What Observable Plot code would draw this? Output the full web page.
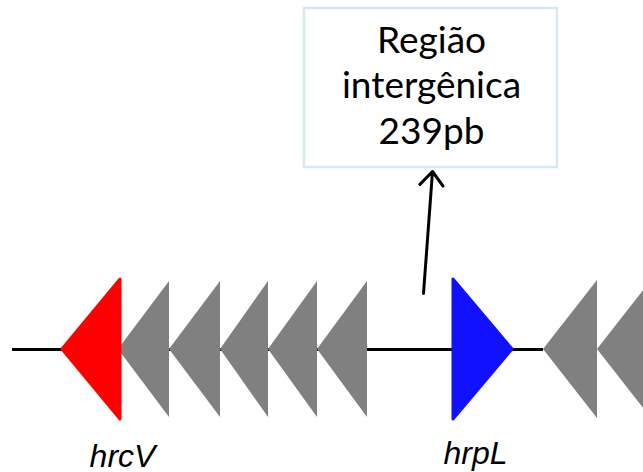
<!DOCTYPE html>
<html>
<head>
<meta charset="utf-8">
<script src="https://cdn.jsdelivr.net/npm/d3@7"></script>
<script src="https://cdn.jsdelivr.net/npm/@observablehq/plot@0.6"></script>
<style>
  html, body { margin: 0; padding: 0; background: #fff; }
  svg { display: block; }
</style>
</head>
<body>
<div id="chart"></div>
<script>
// Gene map (schematic units)
const geneNames  = ["hrcV", "g1", "g2", "g3", "g4", "g5", "hrpL", "g6", "g7"];
const geneTail   = [120, 169, 220, 268, 317, 367, 453, 597, 651];
const geneHead   = [62, 118, 169, 220, 268, 317, 512, 543, 597];
const geneHalf   = [70, 68, 68, 68, 68, 68, 70, 69, 69];
const geneColor  = ["#ff0000", "#808080", "#808080", "#808080", "#808080", "#808080", "#1111ff", "#808080", "#808080"];
const geneOutline = [true, false, false, false, false, false, true, false, false];

const trackLevel = 349;
const trackStart = 12;
const trackEnd = 543;

const labelNames = ["hrcV", "hrpL"];
const labelX = [122, 475];
const labelY = [466, 463];

const boxLines = ["Região", "intergênica", "239pb"];
const boxLineY = [52, 97.5, 143];
const boxX1 = 304, boxX2 = 557, boxY1 = 8, boxY2 = 167;
const boxCenter = 431;

const arrowFrom = [423, 293];
const arrowTo = [432, 171];

// Build polygon table (one area per gene)
const geneRows = [];
geneNames.forEach((g, i) => {
  geneRows.push({gene: g, x: geneTail[i], y1: trackLevel - geneHalf[i], y2: trackLevel + geneHalf[i], color: geneColor[i], outline: geneOutline[i]});
  geneRows.push({gene: g, x: geneHead[i], y1: trackLevel, y2: trackLevel, color: geneColor[i], outline: geneOutline[i]});
});
const outlined = geneRows.filter(d => d.outline);
const plain = geneRows.filter(d => !d.outline);

const chart = Plot.plot({
  width: 643,
  height: 472,
  margin: 0,
  x: {domain: [0, 643], axis: null},
  y: {domain: [472, 0], axis: null},
  marks: [
    Plot.ruleY([trackLevel], {x1: trackStart, x2: trackEnd, stroke: "#000", strokeWidth: 3}),
    Plot.areaY(plain, {x: "x", y1: "y1", y2: "y2", z: "gene", fill: "color", curve: "linear"}),
    Plot.areaY(outlined, {x: "x", y1: "y1", y2: "y2", z: "gene", fill: "color", stroke: "color", strokeWidth: 3, strokeLinejoin: "round", curve: "linear"}),
    Plot.rect([{x1: boxX1, x2: boxX2, y1: boxY1, y2: boxY2}], {x1: "x1", x2: "x2", y1: "y1", y2: "y2", fill: "#fff", stroke: "#d5e9f0", strokeWidth: 2.5}),
    Plot.text(boxLines, {x: boxCenter, y: (d, i) => boxLineY[i], text: d => d, fontSize: 37, fontFamily: "Lato", fill: "#000", lineAnchor: "bottom", textAnchor: "middle"}),
    Plot.arrow([{x1: arrowFrom[0], y1: arrowFrom[1], x2: arrowTo[0], y2: arrowTo[1]}], {x1: "x1", y1: "y1", x2: "x2", y2: "y2", stroke: "#000", strokeWidth: 3, headLength: 9, headAngle: 80, insetEnd: 0}),
    Plot.text(labelNames, {x: (d, i) => labelX[i], y: (d, i) => labelY[i], text: d => d, fontSize: 32, fontStyle: "italic", fontFamily: "Liberation Sans", fill: "#000", lineAnchor: "bottom", textAnchor: "middle"})
  ]
});
document.getElementById("chart").appendChild(chart);
</script>
</body>
</html>
